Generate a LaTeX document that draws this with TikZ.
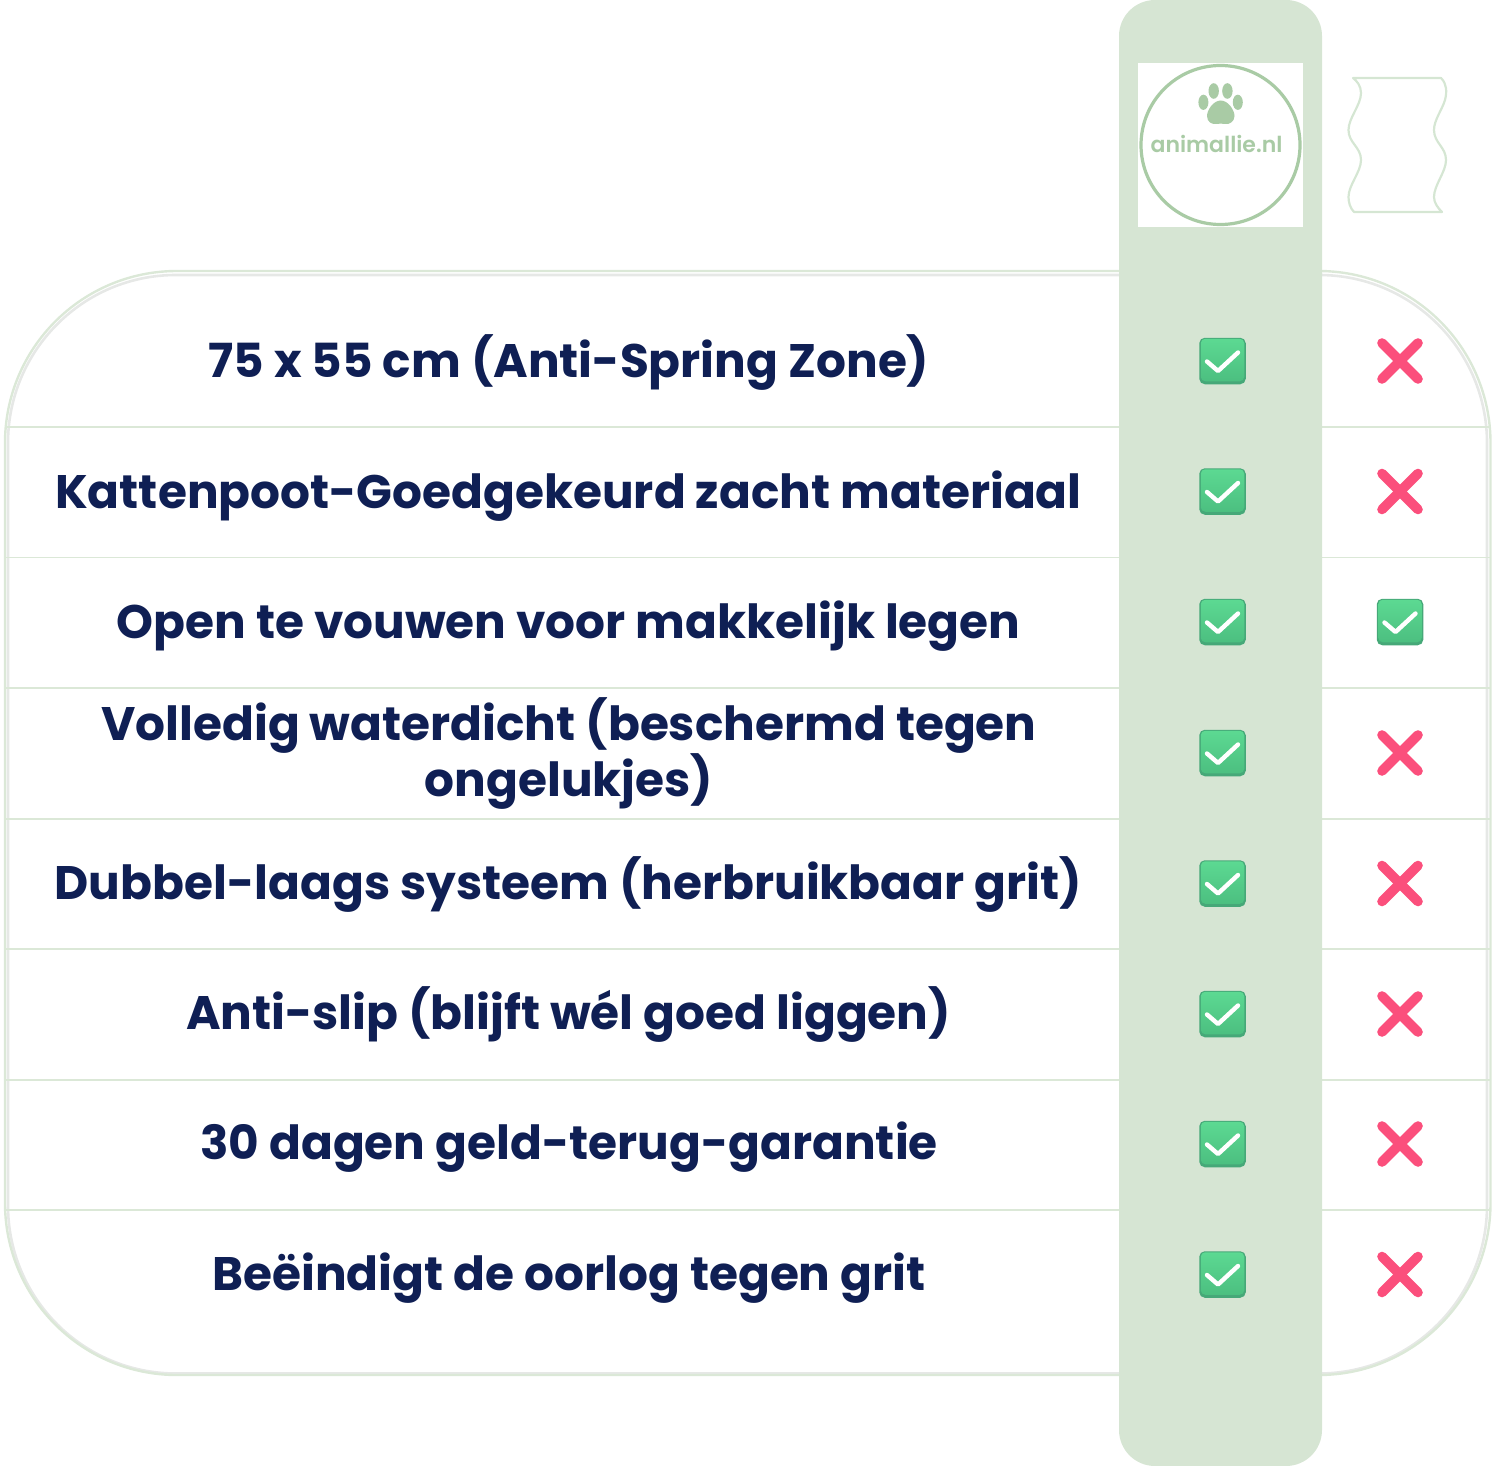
\documentclass[tikz,border=0pt]{standalone}
\usepackage{fontspec}
\setmainfont{Poppins}[BoldFont={Poppins Bold}]
\newfontfamily\logofont{Poppins SemiBold}
\definecolor{navy}{HTML}{0F1F54}
\definecolor{colgreen}{HTML}{D6E5D3}
\definecolor{rimgreen}{HTML}{DBE8D7}
\definecolor{shadowgrey}{HTML}{E6E8E6}
\definecolor{logogreen}{HTML}{A9CBA5}
\definecolor{wavegreen}{HTML}{D5E6D3}
\definecolor{boxtop}{HTML}{5CD992}
\definecolor{boxbot}{HTML}{4CBF80}
\definecolor{boxedge}{HTML}{46A878}
\definecolor{crossred}{HTML}{FB4F7C}
\tikzset{
  rowtext/.style={anchor=base,inner sep=0pt,text=navy,font=\fontsize{47}{56}\selectfont\bfseries},
  rowline/.style={draw=rimgreen,line width=1.8pt},
  pawtoe/.style={fill=logogreen,draw=none},
  boxbase/.style={minimum size=46.5pt,inner sep=0pt,rounded corners=5.5pt,fill=boxedge,draw=none},
  boxface/.style={minimum width=43.5pt,minimum height=42.5pt,inner sep=0pt,rounded corners=4.5pt,top color=boxtop,bottom color=boxbot,draw=none},
  tickmark/.style={draw=white,line width=4.4pt,line cap=round,line join=round},
  crossmark/.style={draw=crossred,line width=9.6pt,line cap=round},
}
\newcommand{\yesbox}[3]{%
  \node[boxbase] (#1) at (#2,#3) {};
  \node[boxface] (#1f) at (#2,#3-1) {};
  \draw[tickmark] (#2-15.5,#3+0.5) -- (#2-4.5,#3+10) -- (#2+15.5,#3-8.5);
}
\newcommand{\nomark}[3]{%
  \coordinate (#1) at (#2,#3);
  \draw[crossmark] (#2-18,#3-18) -- (#2+18,#3+18);
  \draw[crossmark] (#2+18,#3-18) -- (#2-18,#3+18);
}
\begin{document}
\begin{tikzpicture}[x=1pt,y=-1pt]
\useasboundingbox (0,0) rectangle (1500,1466);
% table outline with its faint inner shadow
\draw[shadowgrey,line width=2.6pt,rounded corners=168pt] (8,275) rectangle (1487,1373.5);
\draw[rimgreen,line width=2.4pt,rounded corners=172pt] (5,271) rectangle (1490.5,1375);
% row rules
\foreach \yy in {427,557.5,688,819,949,1080,1210}
  \draw[rowline] (5,\yy) -- (1490,\yy);
% highlighted column
\fill[colgreen,rounded corners=36pt] (1119,0) rectangle (1322,1466);
% logo
\fill[white] (1138,63) rectangle (1303,227.5);
\node[circle,draw=logogreen,line width=3.2pt,minimum size=159pt,inner sep=0pt] (logo) at (1220.5,145) {};
\fill[pawtoe] (1213.7,91) ellipse [x radius=5.2,y radius=7.8];
\fill[pawtoe] (1227.4,91) ellipse [x radius=5.2,y radius=7.8];
\fill[pawtoe] (1203.4,102.3) ellipse [x radius=5,y radius=7.6];
\fill[pawtoe] (1237.8,102.3) ellipse [x radius=5,y radius=7.6];
\fill[pawtoe] (1220.7,100.5) .. controls (1228,100.5) and (1234.5,110) .. (1234.5,116)
  .. controls (1234.5,122) and (1229,124.5) .. (1225.5,124)
  .. controls (1222.5,123.5) and (1219,123.5) .. (1216,124)
  .. controls (1212,124.5) and (1207,122) .. (1207,116)
  .. controls (1207,110) and (1213.5,100.5) .. (1220.7,100.5) -- cycle;
\node[anchor=base,inner sep=0pt,text=logogreen,font=\fontsize{22}{22}\logofont] (logotext) at (1216.5,152.5) {animallie.nl};
% competitor's blank wavy logo
\draw[wavegreen,line width=2.2pt,line join=round] (1353,78) -- (1441,78)
  .. controls (1447,84) and (1447,92) .. (1445,100)
  .. controls (1442,110) and (1434,120) .. (1434,130)
  .. controls (1434,143) and (1446,147) .. (1446,160)
  .. controls (1446,172) and (1434,185) .. (1434,197)
  .. controls (1434,203) and (1438,208) .. (1442,212)
  -- (1354,212)
  .. controls (1350,208) and (1348.5,202) .. (1348.5,197)
  .. controls (1348.5,185) and (1361,172) .. (1361,160)
  .. controls (1361,147) and (1348.5,143) .. (1348.5,130)
  .. controls (1348.5,118) and (1361,105) .. (1361,93)
  .. controls (1361,86) and (1357,81) .. (1353,78) -- cycle;
% row labels
\node[rowtext] (r1) at (569,377.5) {75 x 55 cm (Anti-Spring Zone)};
\node[rowtext] (r2) at (568.5,508) {Kattenpoot-Goedgekeurd zacht materiaal};
\node[rowtext] (r3) at (568.5,638) {Open te vouwen voor makkelijk legen};
\node[rowtext] (r4a) at (569,740.5) {Volledig waterdicht (beschermd tegen};
\node[rowtext] (r4b) at (569,796.5) {ongelukjes)};
\node[rowtext] (r5) at (568.5,899.5) {Dubbel-laags systeem (herbruikbaar grit)};
\node[rowtext] (r6) at (568.5,1029.5) {Anti-slip (blijft wél goed liggen)};
\node[rowtext] (r7) at (569,1159.5) {30 dagen geld-terug-garantie};
\node[rowtext] (r8) at (569,1290) {Beëindigt de oorlog tegen grit};
% marks
\yesbox{a1}{1222.5}{361}
\yesbox{a2}{1222.5}{491.5}
\yesbox{a3}{1222.5}{622}
\yesbox{a4}{1222.5}{753}
\yesbox{a5}{1222.5}{883.5}
\yesbox{a6}{1222.5}{1014}
\yesbox{a7}{1222.5}{1144}
\yesbox{a8}{1222.5}{1274.5}
\nomark{b1}{1400}{361}
\nomark{b2}{1400}{491.5}
\yesbox{b3}{1400}{622}
\nomark{b4}{1400}{753}
\nomark{b5}{1400}{883.5}
\nomark{b6}{1400}{1014}
\nomark{b7}{1400}{1144}
\nomark{b8}{1400}{1274.5}
\end{tikzpicture}
\end{document}
